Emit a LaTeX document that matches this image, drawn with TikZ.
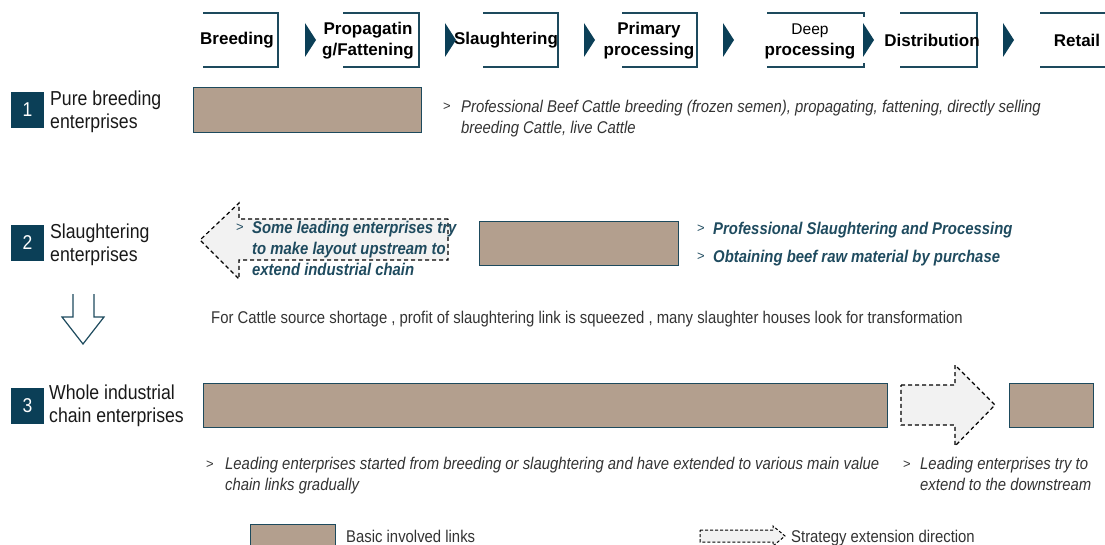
\documentclass[tikz,border=0pt]{standalone}
\usepackage{fontspec}
\setmainfont{Liberation Sans}
\newfontfamily\narrowfont[FakeStretch=0.875]{Liberation Sans}
\usetikzlibrary{positioning}

\definecolor{chainteal}{HTML}{0B3F57}
\definecolor{edgeteal}{HTML}{1D4A5D}
\definecolor{noteteal}{HTML}{1F4B5F}
\definecolor{linkbrown}{HTML}{B39F8E}
\definecolor{notegray}{HTML}{333333}
\definecolor{arrowgray}{HTML}{F2F2F2}

\tikzset{
  headtext/.style={font=\bfseries\fontsize{17}{21}\selectfont, align=center, inner sep=0pt},
  linkbox/.style={draw=edgeteal, fill=linkbrown, line width=1.3pt, inner sep=0pt},
  numbox/.style={fill=chainteal, text=white, minimum width=33pt, minimum height=36pt,
    inner sep=0pt, font=\narrowfont\fontsize{20}{24}\selectfont},
  rowlabel/.style={anchor=north west, inner sep=0pt, align=left, text=black!90,
    font=\narrowfont\fontsize{20.2}{23}\selectfont},
  graynote/.style={anchor=north west, inner sep=0pt, align=left, text=notegray,
    font=\narrowfont\itshape\fontsize{17}{21}\selectfont},
  tealnote/.style={anchor=north west, inner sep=0pt, align=left, text=noteteal,
    font=\narrowfont\bfseries\itshape\fontsize{17}{21}\selectfont},
  bullet/.style={anchor=west, inner sep=0pt, text=notegray, font=\fontsize{13}{15}\selectfont},
  dashedarrow/.style={draw=black, fill=arrowgray, dash pattern=on 4pt off 3pt, line width=1.2pt},
}

\begin{document}
\begin{tikzpicture}[x=1pt, y=-1pt]
    \useasboundingbox (0,0) rectangle (1105,545);
    \clip (0,0) rectangle (1105,545);

    % value chain header
    \foreach \l/\r in {203/278, 343/419, 483/558, 622/697, 900/977, 1040/1120} {
        \draw[edgeteal, line width=1.3pt] (\l,13) -- (\r,13) -- (\r,67) -- (\l,67);
    }
    \draw[edgeteal, line width=1.3pt] (767,13) -- (864,13) -- (864,17);
    \draw[edgeteal, line width=1.3pt] (767,67) -- (864,67) -- (864,63);

    \node[headtext] (hBreed) at (237,40) {Breeding};
    \node[headtext] (hProp) at (368,41) {Propagatin\\g/Fattening};
    \node[headtext] (hSlaugh) at (506,40) {Slaughtering};
    \node[headtext] (hPrim) at (649,41) {Primary\\processing};
    \node[headtext] (hDeep) at (810,41) {{\mdseries\fontsize{15.5}{19}\selectfont Deep}\\processing};
    \node[headtext] (hDist) at (932,40) {Distribution};
    \node[headtext] (hRetail) at (1077,40) {Retail};

    \foreach \x in {305, 445, 584, 723, 863, 1003} {
        \fill[chainteal] (\x,23) -- (\x+11,40) -- (\x,57) -- cycle;
    }

    % 1 pure breeding
    \node[numbox] (n1) at (27.5,110) {1};
    \node[rowlabel] (r1) at (50,91) {Pure breeding\\enterprises};
    \node[linkbox, anchor=north west, minimum width=228pt, minimum height=45pt] (link1) at (193,87) {};
    \node[bullet] (b1) at (443,107) {>};
    \node[graynote] (d1) at (461,100) {Professional Beef Cattle breeding (frozen semen), propagating, fattening, directly selling\\breeding Cattle, live Cattle};

    % 2 slaughtering
    \node[numbox] (n2) at (27.5,243) {2};
    \node[rowlabel] (r2) at (50,224) {Slaughtering\\enterprises};
    \draw[dashedarrow] (448,219) -- (239,219) -- (239,203) -- (200,240) -- (239,279)
        -- (239,260) -- (448,260) -- cycle;
    \node[bullet, text=noteteal] (b2) at (236,228) {>};
    \node[tealnote] (d2) at (252,221) {Some leading enterprises try\\to make layout upstream to\\extend industrial chain};
    \node[linkbox, anchor=north west, minimum width=199pt, minimum height=44pt] (link2) at (479,221) {};
    \node[bullet, text=noteteal] (b3) at (697,229) {>};
    \node[tealnote] (d3) at (713,222) {Professional Slaughtering and Processing};
    \node[bullet, text=noteteal] (b4) at (697,257) {>};
    \node[tealnote] (d4) at (713,250) {Obtaining beef raw material by purchase};

    \draw[edgeteal, line width=1.2pt] (73,294) -- (73,317) -- (62,317) -- (83,344)
        -- (104,317) -- (94,317) -- (94,294);
    \node[graynote, font=\narrowfont\fontsize{17}{21}\selectfont] (shift) at (211,311)
        {For Cattle source shortage , profit of slaughtering link is squeezed , many slaughter houses look for transformation};

    % 3 whole chain
    \node[numbox] (n3) at (27.5,406) {3};
    \node[rowlabel] (r3) at (49,385) {Whole industrial\\chain enterprises};
    \node[linkbox, anchor=north west, minimum width=684pt, minimum height=44pt] (link3) at (203,383) {};
    \draw[dashedarrow] (901,385) -- (955,385) -- (955,365) -- (995,405) -- (955,446)
        -- (955,425) -- (901,425) -- cycle;
    \node[linkbox, anchor=north west, minimum width=84pt, minimum height=44pt] (link4) at (1009,383) {};
    \node[bullet] (b5) at (206,465) {>};
    \node[graynote] (d5) at (225,457) {Leading enterprises started from breeding or slaughtering and have extended to various main value\\chain links gradually};
    \node[bullet] (b6) at (903,465) {>};
    \node[graynote] (d6) at (920,457) {Leading enterprises try to\\extend to the downstream};

    % legend
    \node[linkbox, anchor=north west, minimum width=85pt, minimum height=30pt] (legLink) at (250,524) {};
    \node[graynote, font=\narrowfont\fontsize{17}{21}\selectfont] (legLinkText) at (346,530) {Basic involved links};
    \draw[dashedarrow, dash pattern=on 3pt off 2pt, line width=1pt] (700,530) -- (773,530) -- (773,526)
        -- (785,536) -- (773,546) -- (773,542) -- (700,542) -- cycle;
    \node[graynote, font=\narrowfont\fontsize{17}{21}\selectfont] (legArrowText) at (791,530) {Strategy extension direction};
\end{tikzpicture}
\end{document}
